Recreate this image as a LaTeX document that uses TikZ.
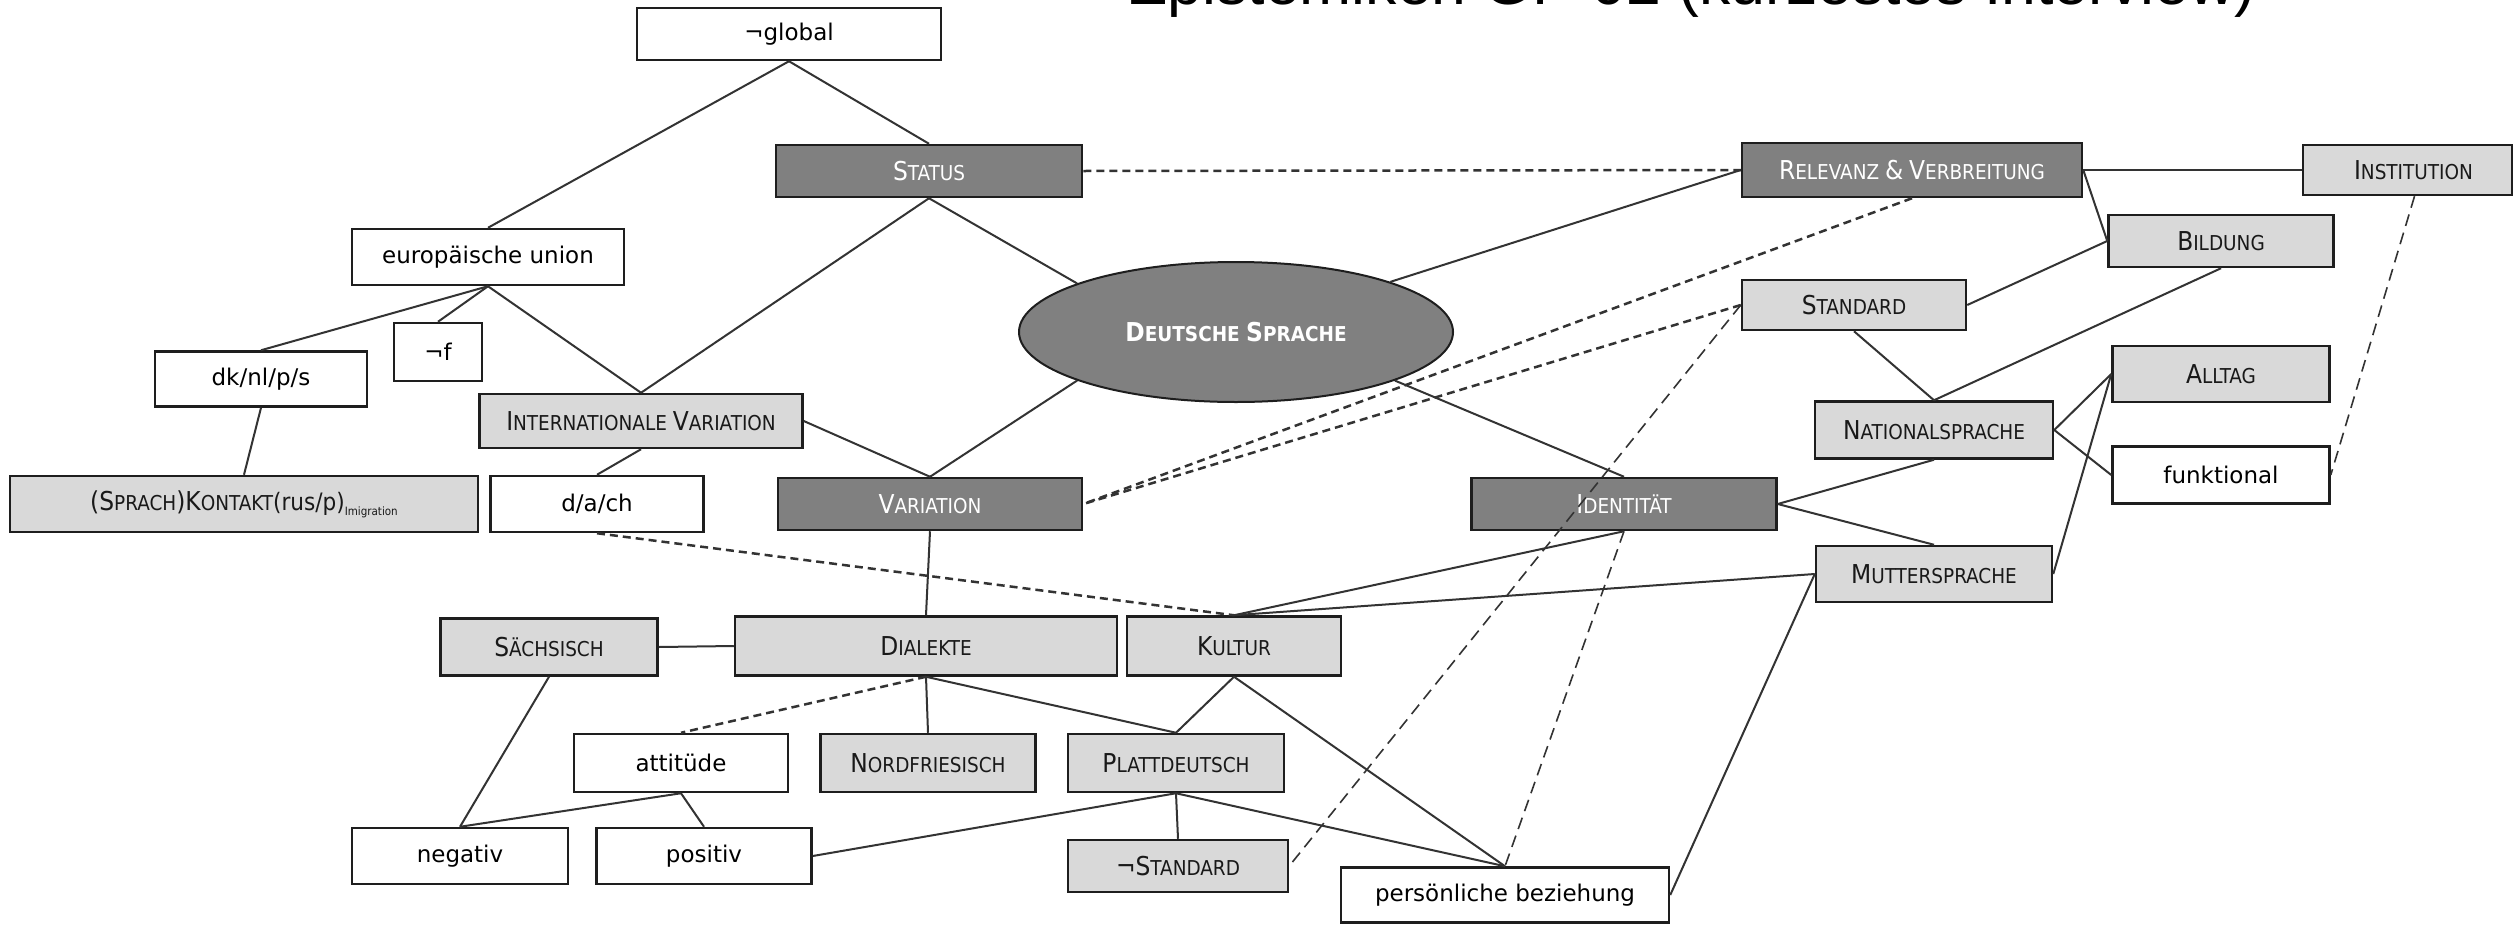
\documentclass[tikz,border=0pt]{standalone}
\usepackage{fontspec}
\usetikzlibrary{shapes.geometric}
\newfontfamily\dvs{DejaVu Sans}
\newfontfamily\dvc{DejaVu Sans Condensed}
\newfontfamily\ttl{Liberation Sans}
\definecolor{darkfill}{HTML}{808080}
\definecolor{lightfill}{HTML}{D9D9D9}
\definecolor{edgecol}{HTML}{1E1E1E}
\definecolor{conn}{HTML}{333333}
\newcommand\SCx[2]{{\fontsize{26}{26}\selectfont #1}{\fontsize{20.5}{20.5}\selectfont #2}}
\begin{document}
\begin{tikzpicture}[x=1pt,y=-1pt,
  base/.style={draw=edgecol, line width=2.5pt, inner sep=0pt, anchor=center},
  wbox/.style={base, fill=white, text=black, font=\dvs\fontsize{23}{23}\selectfont},
  lbox/.style={base, fill=lightfill, text=black!90, font=\dvc\fontsize{20.5}{20.5}\selectfont},
  dbox/.style={base, fill=darkfill, text=white, font=\dvc\fontsize{20.5}{20.5}\selectfont},
  sz/.style 2 args={minimum width=#1pt, minimum height=#2pt},
  ln/.style={draw=conn, line width=2pt},
  dsh/.style={draw=conn, line width=2.5pt, dash pattern=on 8pt off 5pt},
  dlg/.style={draw=conn, line width=1.6pt, dash pattern=on 12pt off 7pt},
]
\useasboundingbox (0,0) rectangle (2514,924);
\fill[white] (0,0) rectangle (2514,924);

\node[anchor=base west, inner sep=0pt, font=\ttl\fontsize{62.5}{62.5}\selectfont] (title) at (1126,4) {Epistemiken GP 02 (kürzestes Interview)};

\node[wbox, sz={304}{52}] (gl) at (789,34) {¬global};
\node[dbox, sz={306}{52}] (st) at (929,171) {\SCx{S}{TATUS}};
\node[wbox, sz={272}{56}] (eu) at (488,257) {europäische union};
\node[wbox, sz={212}{55}] (dk) at (261,379) {dk/nl/p/s};
\node[wbox, sz={88}{58}] (nf) at (438,352) {¬f};
\node[lbox, sz={323}{54}] (iv) at (641,421) {\SCx{I}{NTERNATIONALE} \SCx{V}{ARIATION}};
\node[lbox, sz={468}{56}] (ko) at (244,504) {{\fontsize{26}{26}\selectfont(}\SCx{S}{PRACH}{\fontsize{26}{26}\selectfont)}\SCx{K}{ONTAKT}{\fontsize{24}{24}\selectfont(rus/p)}\raisebox{-5pt}{\fontsize{11.5}{11.5}\selectfont Imigration}};
\node[wbox, sz={213}{56}] (da) at (597,504) {d/a/ch};
\node[dbox, sz={304}{52}] (va) at (930,504) {\SCx{V}{ARIATION}};
\node[draw=edgecol, line width=2pt, ellipse, fill=darkfill, text=white, inner sep=0pt, minimum width=434pt, minimum height=140pt, font=\dvc\bfseries\fontsize{20.5}{20.5}\selectfont] (ds) at (1236,332) {\SCx{D}{EUTSCHE} \SCx{S}{PRACHE}};
\node[dbox, sz={340}{54}] (rv) at (1912,170) {\SCx{R}{ELEVANZ} {\fontsize{26}{26}\selectfont\&} \SCx{V}{ERBREITUNG}};
\node[lbox, sz={209}{50}] (in) at (2407.5,170) {\hspace*{12pt}\SCx{I}{NSTITUTION}};
\node[lbox, sz={225}{52}] (bi) at (2221,241) {\SCx{B}{ILDUNG}};
\node[lbox, sz={224}{50}] (sd) at (1854,305) {\SCx{S}{TANDARD}};
\node[lbox, sz={217}{56}] (al) at (2221,374) {\SCx{A}{LLTAG}};
\node[lbox, sz={238}{57}] (na) at (1934,430) {\SCx{N}{ATIONALSPRACHE}};
\node[wbox, sz={217}{57}] (fu) at (2221,475) {funktional};
\node[dbox, sz={305}{52}] (id) at (1624,504) {\SCx{I}{DENTITÄT}};
\node[lbox, sz={236}{56}] (mu) at (1934,574) {\SCx{M}{UTTERSPRACHE}};
\node[lbox, sz={217}{57}] (sa) at (549,647) {\SCx{S}{ÄCHSISCH}};
\node[lbox, sz={382}{59}] (di) at (926,646) {\SCx{D}{IALEKTE}};
\node[lbox, sz={214}{59}] (ku) at (1234,646) {\SCx{K}{ULTUR}};
\node[wbox, sz={214}{58}] (at) at (681,763) {attitüde};
\node[lbox, sz={215}{58}] (no) at (928,763) {\SCx{N}{ORDFRIESISCH}};
\node[lbox, sz={216}{58}] (pl) at (1176,763) {\SCx{P}{LATTDEUTSCH}};
\node[wbox, sz={216}{56}] (ne) at (460,856) {negativ};
\node[wbox, sz={215}{56}] (po) at (704,856) {positiv};
\node[lbox, sz={220}{52}] (ns) at (1178,866) {{\fontsize{26}{26}\selectfont ¬}\SCx{S}{TANDARD}};
\node[wbox, sz={328}{55}] (pb) at (1505,895) {persönliche beziehung};

\draw[ln] (gl.south) -- (eu.north);
\draw[ln] (gl.south) -- (st.north);
\draw[ln] (eu.south) -- (dk.north);
\draw[ln] (eu.south) -- (nf.north);
\draw[ln] (eu.south) -- (iv.north);
\draw[ln] (st.south) -- (iv.north);
\draw[ln] (st.south) -- (ds.163);
\draw[dsh] (st.east) -- (rv.west);
\draw[ln] (ds.18) -- (rv.west);
\draw[ln] (rv.east) -- (in.west);
\draw[ln] (rv.east) -- (bi.west);
\draw[dsh] (rv.south) -- (va.east);
\draw[dsh] (sd.west) -- (va.east);
\draw[dlg] (sd.west) -- (ns.east);
\draw[ln] (sd.east) -- (bi.west);
\draw[ln] (sd.south) -- (na.north);
\draw[ln] (bi.south) -- (na.north);
\draw[ln] (na.east) -- (al.west);
\draw[ln] (na.east) -- (fu.west);
\draw[ln] (mu.east) -- (al.west);
\draw[dlg] ([xshift=7pt]in.south) -- (fu.east);
\draw[ln] (ds.-17) -- (id.north);
\draw[ln] (ds.197) -- (va.north);
\draw[ln] (iv.east) -- (va.north);
\draw[ln] (iv.south) -- (da.north);
\draw[ln] (dk.south) -- (ko.north);
\draw[dsh] (da.south) -- (ku.north);
\draw[ln] (va.south) -- (di.north);
\draw[ln] (id.east) -- (na.south);
\draw[ln] (id.east) -- (mu.north);
\draw[ln] (id.south) -- (ku.north);
\draw[ln] (mu.west) -- (ku.north);
\draw[dlg] (id.south) -- (pb.north);
\draw[ln] (mu.west) -- (pb.east);
\draw[ln] (sa.east) -- (di.west);
\draw[ln] (sa.south) -- (ne.north);
\draw[dsh] (di.south) -- (at.north);
\draw[ln] (di.south) -- (no.north);
\draw[ln] (di.south) -- (pl.north);
\draw[ln] (ku.south) -- (pl.north);
\draw[ln] (ku.south) -- (pb.north);
\draw[ln] (at.south) -- (ne.north);
\draw[ln] (at.south) -- (po.north);
\draw[ln] (po.east) -- (pl.south);
\draw[ln] (pl.south) -- (ns.north);
\draw[ln] (pl.south) -- (pb.north);
\end{tikzpicture}
\end{document}
